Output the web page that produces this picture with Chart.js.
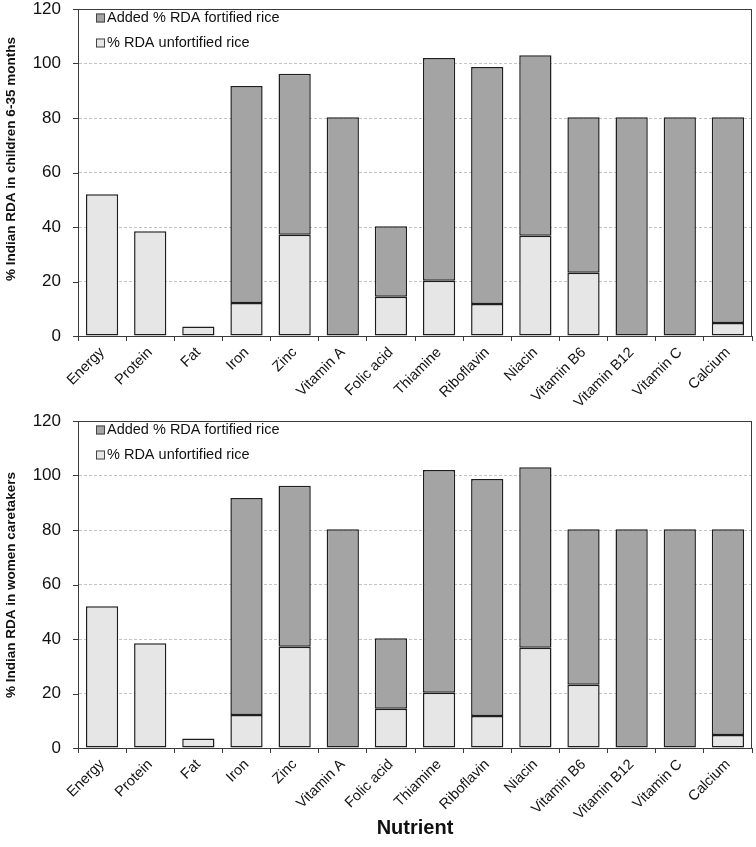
<!DOCTYPE html>
<html>
<head>
<meta charset="utf-8">
<script src="https://cdn.jsdelivr.net/npm/chart.js@4/dist/chart.umd.min.js"></script>
<style>
  html, body { margin: 0; padding: 0; background: #fff; }
  #wrap { position: relative; width: 756px; height: 847px; }
  #topChart { position: absolute; left: 0; top: 0; }
  #bottomChart { position: absolute; left: 0; top: 410px; }
</style>
</head>
<body>
<div id="wrap">
  <canvas id="topChart" width="756" height="410"></canvas>
  <canvas id="bottomChart" width="756" height="437"></canvas>
</div>
<script>
  const nutrients = ['Energy', 'Protein', 'Fat', 'Iron', 'Zinc', 'Vitamin A', 'Folic acid',
    'Thiamine', 'Riboflavin', 'Niacin', 'Vitamin B6', 'Vitamin B12', 'Vitamin C', 'Calcium'];
  const yTicks = [0, 20, 40, 60, 80, 100, 120];

  // children 6-35 months
  const childUnfortified = [52, 38.4, 3.5, 12.1, 37.2, 0, 14.4, 20.3, 11.7, 36.8, 23.2, 0, 0, 4.8];
  const childAdded = [0, 0, 0, 79.6, 59, 80.3, 25.9, 81.7, 87, 66.2, 57.1, 80.3, 80.3, 75.5];

  // women caretakers
  const womenUnfortified = [52, 38.4, 3.5, 12.1, 37.2, 0, 14.4, 20.3, 11.7, 36.8, 23.2, 0, 0, 4.8];
  const womenAdded = [0, 0, 0, 79.6, 59, 80.3, 25.9, 81.7, 87, 66.2, 57.1, 80.3, 80.3, 75.5];

  const FONT = "'Liberation Sans', Arial, sans-serif";
  const DARK = '#a4a4a4';
  const LIGHT = '#e6e6e6';
  const EDGE = '#1e1e1e';
  const AXIS = '#3a3a3a';

  // frame round the plot area, short y tick marks, y title, legend inside the plot
  const framePlugin = {
    id: 'frame',
    afterDraw(chart, args, opts) {
      const { ctx, chartArea: a } = chart;
      const y = chart.scales.y;
      ctx.save();
      ctx.strokeStyle = AXIS;
      ctx.lineWidth = 1;
      ctx.strokeRect(a.left + 0.5, a.top + 0.5, a.right - a.left - 1, a.bottom - a.top);

      ctx.beginPath();
      y.ticks.forEach(t => {
        const py = Math.round(y.getPixelForValue(t.value)) + 0.5;
        ctx.moveTo(a.left - 5, py);
        ctx.lineTo(a.left, py);
      });
      ctx.stroke();

      // y axis title
      ctx.save();
      ctx.translate(11, opts.titleY);
      ctx.rotate(-Math.PI / 2);
      ctx.font = 'bold 13.5px ' + FONT;
      ctx.fillStyle = '#111';
      ctx.textAlign = 'center';
      ctx.textBaseline = 'middle';
      ctx.fillText(opts.yTitle, 0, 0);
      ctx.restore();

      // legend, top dataset first
      const items = chart.data.datasets.slice().reverse();
      ctx.font = '14.5px ' + FONT;
      ctx.textBaseline = 'middle';
      items.forEach((ds, i) => {
        const ly = a.top + 9 + i * 25;
        const lx = a.left + 18;
        ctx.fillStyle = ds.backgroundColor;
        ctx.fillRect(lx, ly - 4.5, 9, 9);
        ctx.strokeStyle = '#444';
        ctx.strokeRect(lx + 0.5, ly - 4, 8, 8);
        ctx.fillStyle = '#111';
        ctx.fillText(ds.label, lx + 11, ly);
      });
      ctx.restore();
    }
  };

  function makeChart(id, unfortified, added, yTitle, titleY, showXTitle, xHeight, topPad) {
    const ctx = document.getElementById(id).getContext('2d');
    return new Chart(ctx, {
      type: 'bar',
      data: {
        labels: nutrients,
        datasets: [
          {
            label: '% RDA unfortified rice',
            data: unfortified,
            backgroundColor: LIGHT,
            borderColor: EDGE,
            borderWidth: 1.5,
            borderSkipped: false
          },
          {
            label: 'Added % RDA fortified rice',
            data: added,
            backgroundColor: DARK,
            borderColor: EDGE,
            borderWidth: 1.5,
            borderSkipped: false
          }
        ]
      },
      options: {
        responsive: false,
        animation: false,
        devicePixelRatio: 1,
        layout: { padding: { left: 0, right: 4, top: topPad, bottom: 0 } },
        datasets: { bar: { categoryPercentage: 1, barPercentage: 0.67 } },
        plugins: {
          legend: { display: false },
          tooltip: { enabled: false },
          frame: { yTitle: yTitle, titleY: titleY }
        },
        scales: {
          x: {
            stacked: true,
            afterFit: (s) => { s.height = xHeight; },
            grid: {
              offset: true,
              drawOnChartArea: false,
              tickLength: 5,
              color: AXIS
            },
            border: { color: AXIS },
            ticks: {
              minRotation: 45,
              maxRotation: 45,
              autoSkip: false,
              color: '#111',
              font: { family: FONT, size: 14.5 }
            },
            title: {
              display: showXTitle,
              text: 'Nutrient',
              color: '#111',
              font: { family: FONT, size: 20, weight: 'bold' },
              padding: { top: 4, bottom: 7 }
            }
          },
          y: {
            stacked: true,
            min: 0,
            max: 120,
            afterFit: (s) => { s.width = 78; },
            afterBuildTicks: (s) => { s.ticks = yTicks.map(v => ({ value: v })); },
            grid: {
              color: '#c4c4c4',
              tickLength: 17,
              tickColor: 'rgba(0,0,0,0)'
            },
            border: { color: AXIS, dash: [3, 2] },
            ticks: {
              padding: 0,
              color: '#111',
              font: { family: FONT, size: 17, lineHeight: 1 }
            }
          }
        }
      },
      plugins: [framePlugin]
    });
  }

  makeChart('topChart', childUnfortified, childAdded, '% Indian RDA in children 6-35 months', 159, false, 74, 9);
  makeChart('bottomChart', womenUnfortified, womenAdded, '% Indian RDA in women caretakers', 175, true, 99, 11);
</script>
</body>
</html>
